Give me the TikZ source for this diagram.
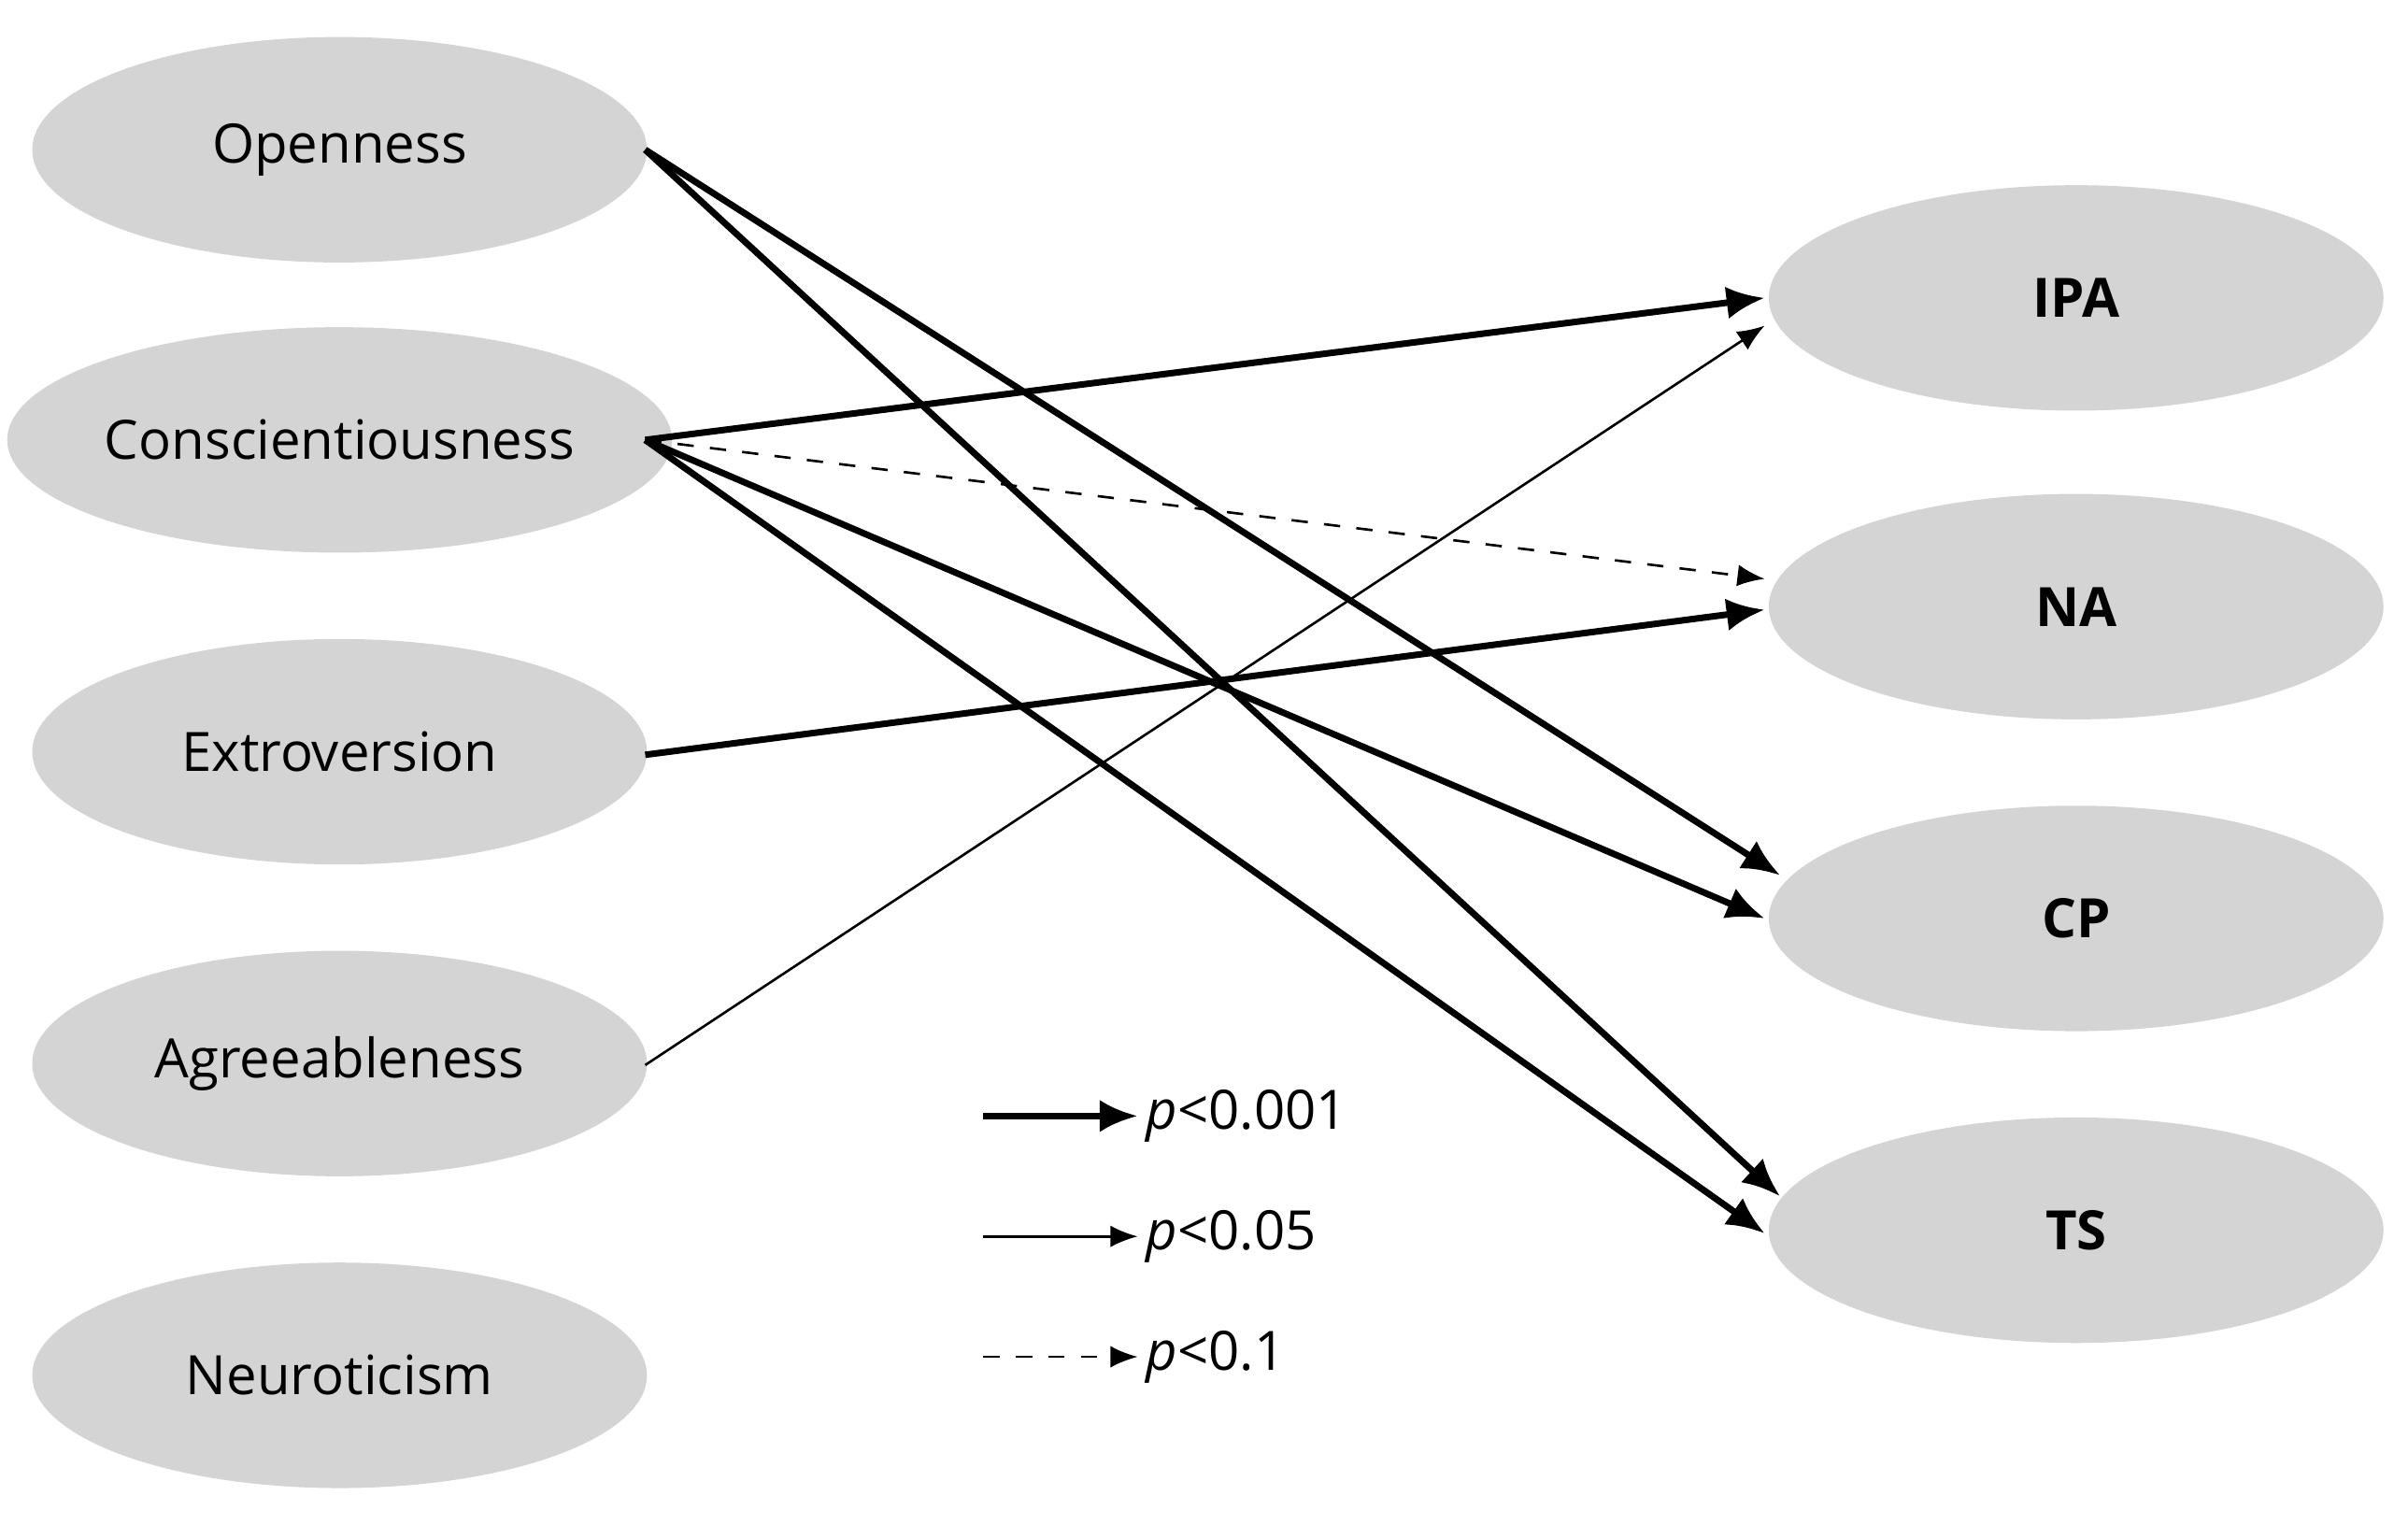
\documentclass[tikz,border=0pt]{standalone}
\usepackage{fontspec}
\setmainfont{Open Sans}
\usetikzlibrary{arrows.meta,shapes.geometric}
\begin{document}
\begin{tikzpicture}[x=0.01cm,y=-0.01cm,
 el/.style={ellipse,fill=black!17,minimum width=3.98cm,minimum height=1.46cm,inner sep=0,font=\fontsize{10}{12}\selectfont},
 er/.style={el,font=\fontsize{10}{12}\selectfont\bfseries},
 thk/.style={line width=1.2pt,-{Latex[length=7pt,width=6pt]}},
 thn/.style={line width=0.45pt,-{Latex[length=5pt,width=4pt]}},
 dsh/.style={line width=0.45pt,dashed,-{Latex[length=5pt,width=4pt]}}]
\useasboundingbox (0,0) rectangle (1560,987);
\node[el] (O) at (220,97) {Openness};
\node[el] (C) at (220,285) {Conscientiousness};
\node[el] (E) at (220,487) {Extroversion};
\node[el] (A) at (220,689) {Agreeableness};
\node[el] (N) at (220,891) {Neuroticism};
\node[er] (I) at (1345,193) {IPA};
\node[er] (NA) at (1345,393) {NA};
\node[er] (CP) at (1345,595) {CP};
\node[er] (TS) at (1345,797) {TS};
\coordinate (Os) at (418,97);
\coordinate (Cs) at (418,285);
\coordinate (Es) at (418,489);
\coordinate (As) at (418,690);
\draw[thk] (Os) -- ([shift={(8,-28)}]CP.west);
\draw[thk] (Os) -- ([shift={(8,-22)}]TS.west);
\draw[thk] (Cs) -- ([shift={(-2,0)}]I.west);
\draw[dsh] (Cs) -- ([shift={(-2,-18)}]NA.west);
\draw[thk] (Cs) -- ([shift={(-2,0)}]CP.west);
\draw[thk] (Cs) -- ([shift={(-2,2)}]TS.west);
\draw[thk] (Es) -- ([shift={(-2,2)}]NA.west);
\draw[thn] (As) -- ([shift={(-2,18)}]I.west);
\coordinate (l1) at (637,723); \coordinate (l1e) at (737,723);
\coordinate (l2) at (637,801); \coordinate (l2e) at (737,801);
\coordinate (l3) at (637,879); \coordinate (l3e) at (737,879);
\draw[thk] (l1) -- (l1e);
\draw[thn] (l2) -- (l2e);
\draw[dsh] (l3) -- (l3e);
\node[anchor=west,inner sep=0,font=\fontsize{10}{12}\selectfont] (t1) at (742,723) {\textit{p}<0.001};
\node[anchor=west,inner sep=0,font=\fontsize{10}{12}\selectfont] (t2) at (742,801) {\textit{p}<0.05};
\node[anchor=west,inner sep=0,font=\fontsize{10}{12}\selectfont] (t3) at (742,879) {\textit{p}<0.1};
\end{tikzpicture}
\end{document}
